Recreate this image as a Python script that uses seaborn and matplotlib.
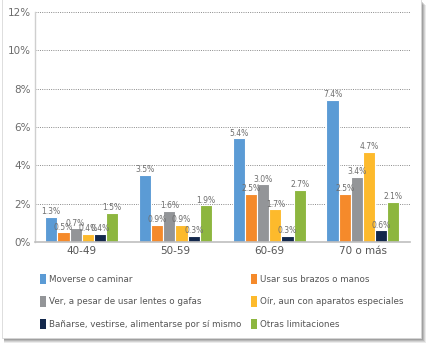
import matplotlib
matplotlib.use("Agg")
import matplotlib.pyplot as plt
import matplotlib.patches as mpatches
import seaborn as sns
import pandas as pd

groups = ["40-49", "50-59", "60-69", "70 o más"]
series = ["Moverse o caminar", "Usar sus brazos o manos",
          "Ver, a pesar de usar lentes o gafas", "Oír, aun con aparatos especiales",
          "Bañarse, vestirse, alimentarse por sí mismo", "Otras limitaciones"]
moverse = [1.3, 3.5, 5.4, 7.4]
brazos = [0.5, 0.9, 2.5, 2.5]
ver = [0.7, 1.6, 3.0, 3.4]
oir = [0.4, 0.9, 1.7, 4.7]
banarse = [0.4, 0.3, 0.3, 0.6]
otras = [1.5, 1.9, 2.7, 2.1]
colors = ["#5B9BD5", "#F58A2B", "#939598", "#FDBA2C", "#13284C", "#8DB63F"]
yticks = [0, 2, 4, 6, 8, 10, 12]

values = [moverse, brazos, ver, oir, banarse, otras]
rows = []
for s, vals in zip(series, values):
    for g, v in zip(groups, vals):
        rows.append({"grupo": g, "serie": s, "valor": v})
df = pd.DataFrame(rows)

sns.set_theme(style="white")
plt.rcParams['font.family'] = ['DejaVu Sans']
fig = plt.figure(figsize=(4.3, 3.48), dpi=100)
fig.patch.set_facecolor("white")

# frame with soft shadow (right and bottom)
W, H = 430.0, 348.0
x0, y0, x1, y1 = 2, 10, 421, 348  # box in pixel coords (y from bottom)
for k, a in [(5, 0.12), (4, 0.17), (3, 0.22), (2, 0.27), (1, 0.32)]:
    fig.patches.append(mpatches.Rectangle(((x0 + 2) / W, (y0 - k) / H),
                                          (x1 - x0 + k - 2) / W, (y1 - y0) / H,
                                          transform=fig.transFigure, facecolor="#606060",
                                          edgecolor="none", alpha=a, zorder=-5))
fig.patches.append(mpatches.Rectangle((x0 / W, y0 / H), (x1 - x0) / W, (y1 - y0 + 5) / H,
                                      transform=fig.transFigure, facecolor="white",
                                      edgecolor="#d8d8d8", linewidth=0.6, zorder=-4))

ax = fig.add_axes([0.081, 0.305, 0.872, 0.661])
ax.set_facecolor("none")
ax.set_zorder(2)
sns.barplot(data=df, x="grupo", y="valor", hue="serie", hue_order=series,
            order=groups, palette=colors, width=0.78, ax=ax, legend=False,
            edgecolor="white", linewidth=0.8, saturation=1)

narrow = "Liberation Sans Narrow"
for cont in ax.containers:
    for bar in cont:
        h = bar.get_height()
        ax.text(bar.get_x() + bar.get_width() / 2, h + 0.04, f"{h:.1f}%",
                ha="center", va="bottom", fontsize=5.5, color="#6e6e6e",
                family=narrow)

ax.set_ylim(0, 12)
ax.set_yticks(yticks)
ax.set_yticklabels([f"{t}%" for t in yticks], family=narrow, fontsize=7.5, color="#6b6b6b")
ax.set_xticklabels(groups, family=narrow, fontsize=7.5, color="#555555")
ax.set_xlabel("")
ax.set_ylabel("")
ax.tick_params(axis="both", length=0, pad=3)
ax.yaxis.grid(True, linestyle=(0, (1, 1.3)), color="#8a8a8a", linewidth=0.7)
ax.set_axisbelow(True)
for side in ["top", "right"]:
    ax.spines[side].set_visible(False)
ax.spines["left"].set_color("#cfcfcf")
ax.spines["bottom"].set_color("#bfbfbf")
ax.spines["left"].set_linewidth(1.0)
ax.spines["bottom"].set_linewidth(1.2)
ax.set_xlim(-0.5, 3.5)

handles = [mpatches.Patch(facecolor=c, edgecolor="none") for c in colors]
common = dict(loc="upper left", frameon=False, fontsize=6.3, handlelength=0.7,
              handleheight=1.4, handletextpad=0.35, labelspacing=1.4,
              labelcolor="#555555")
leg1 = fig.legend([handles[i] for i in (0, 2, 4)], [series[i] for i in (0, 2, 4)],
                  bbox_to_anchor=(0.075, 0.235), **common)
leg2 = fig.legend([handles[i] for i in (1, 3, 5)], [series[i] for i in (1, 3, 5)],
                  bbox_to_anchor=(0.565, 0.235), **common)

fig.savefig("out.png", dpi=100, facecolor="white")
